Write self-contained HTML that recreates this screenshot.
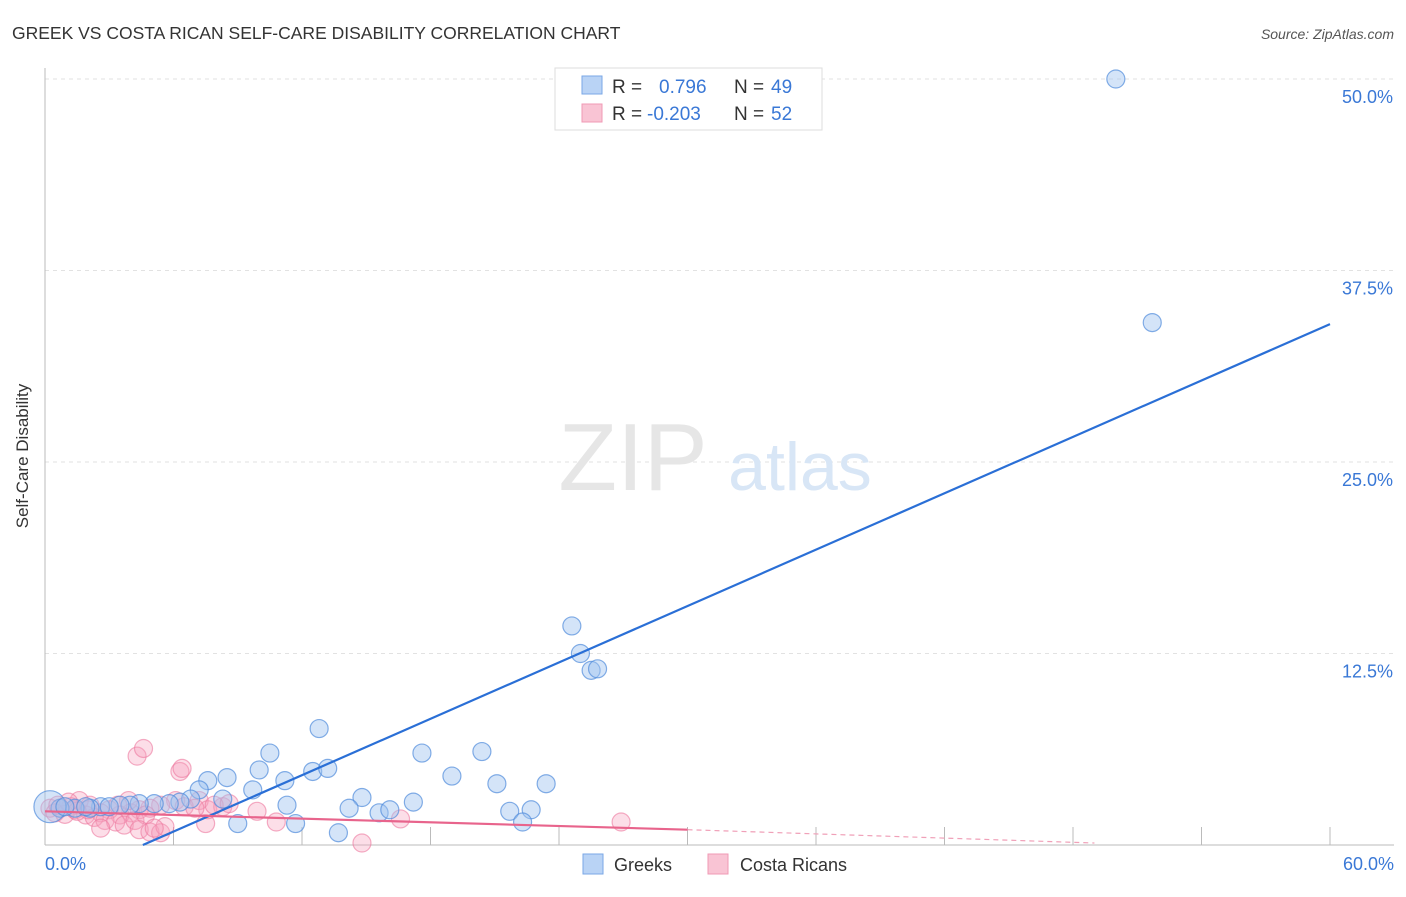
<!DOCTYPE html>
<html><head><meta charset="utf-8"><style>
body{margin:0;background:#fff;font-family:"Liberation Sans",sans-serif;}
svg text{font-family:"Liberation Sans",sans-serif;}
</style></head><body>
<svg width="1406" height="892" xmlns="http://www.w3.org/2000/svg">
<text x="12" y="39" font-size="17.5" fill="#333">GREEK VS COSTA RICAN SELF-CARE DISABILITY CORRELATION CHART</text>
<text x="1394" y="39" font-size="14" fill="#555" font-style="italic" text-anchor="end">Source: ZipAtlas.com</text>
<g id="grid"></g>
<text x="633" y="490" font-size="96" fill="#e6e6e6" font-family="Liberation Serif" text-anchor="middle">ZIP</text>
<text x="800" y="490" font-size="68" fill="#d8e6f6" text-anchor="middle">atlas</text>
<line x1="45" y1="68" x2="45" y2="845" stroke="#bbb"/>
<line x1="45" y1="845" x2="1394" y2="845" stroke="#bbb"/>
<g id="pts"></g>
<g id="lines"></g>
<text x="28" y="456" font-size="17" fill="#333" transform="rotate(-90 28 456)" text-anchor="middle">Self-Care Disability</text>
<text x="45" y="870" font-size="18" fill="#3a78d6">0.0%</text>
<text x="1394" y="870" font-size="18" fill="#3a78d6" text-anchor="end">60.0%</text>
<g>
<rect x="555" y="68" width="267" height="62" fill="#fff" stroke="#ddd"/>
<rect x="582" y="76" width="20" height="18" fill="#b9d3f5" stroke="#7aa7e6"/>
<rect x="582" y="104" width="20" height="18" fill="#f9c4d4" stroke="#f09ab5"/>
<text x="612" y="93" font-size="19" fill="#333">R =</text><text x="659" y="93" font-size="19" fill="#3a78d6">0.796</text>
<text x="734" y="93" font-size="19" fill="#333">N =</text><text x="771" y="93" font-size="19" fill="#3a78d6">49</text>
<text x="612" y="120" font-size="19" fill="#333">R =</text><text x="647" y="120" font-size="19" fill="#3a78d6">-0.203</text>
<text x="734" y="120" font-size="19" fill="#333">N =</text><text x="771" y="120" font-size="19" fill="#3a78d6">52</text>
</g>
<g>
<rect x="583" y="854" width="20" height="20" fill="#b9d3f5" stroke="#7aa7e6"/>
<text x="614" y="871" font-size="18" fill="#333">Greeks</text>
<rect x="708" y="854" width="20" height="20" fill="#f9c4d4" stroke="#f09ab5"/>
<text x="740" y="871" font-size="18" fill="#333">Costa Ricans</text>
</g>
</svg>
<script>
const yTicks=[12.5,25,37.5,50];
const xTicks=[0,6,12,18,24,30,36,42,48,54,60];
const greekX=[50.0,51.7,24.6,25.0,25.5,25.8,12.8,10.5,17.6,20.4,8.5,7.6,10.0,11.2,12.5,13.2,19.0,21.1,23.4,9.7,8.3,7.2,6.8,14.8,17.2,11.3,14.2,15.6,16.1,21.7,22.7,9.0,11.7,13.7,22.3,6.3,5.8,5.1,4.4,3.97,3.5,2.6,2.1,1.4,0.7,0.23,3.0,0.93,1.9];
const greekY=[50.0,34.1,14.3,12.5,11.4,11.5,7.6,6.0,6.0,6.1,4.4,4.2,4.9,4.2,4.8,5.0,4.5,4.0,4.0,3.6,3.0,3.6,3.0,3.1,2.8,2.6,2.4,2.1,2.3,2.2,2.3,1.4,1.4,0.8,1.5,2.8,2.7,2.7,2.7,2.6,2.6,2.5,2.4,2.4,2.4,2.5,2.5,2.5,2.5];
const greekR=[9,9,9,9,9,9,9,9,9,9,9,9,9,9,9,9,9,9,9,9,9,9,9,9,9,9,9,9,9,9,9,9,9,9,9,16,9,9,9,9,9,9,9,9,9,16,9,9,9];
const crX=[4.3,4.6,6.3,6.4,7.2,6.1,5.4,4.9,4.4,4.0,3.5,3.0,2.6,2.1,1.6,1.2,0.7,0.23,0.47,0.93,1.4,1.9,2.3,2.8,3.3,3.7,4.2,4.7,2.6,4.4,4.9,5.4,5.6,5.1,7.5,7.6,8.3,9.9,10.8,14.8,16.6,26.9,6.5,7.9,8.6,7.0,3.9,3.4,2.0,1.5,1.1,0.6];
const crY=[5.8,6.3,4.8,5.0,2.9,2.9,2.6,2.4,2.3,2.1,1.96,2.3,2.1,2.6,2.9,2.5,2.4,2.4,2.1,2.0,2.3,1.96,1.8,1.6,1.5,1.3,1.6,1.96,1.1,1.0,0.85,0.8,1.2,1.1,1.4,2.3,2.5,2.2,1.5,0.13,1.7,1.5,2.5,2.6,2.7,2.4,2.9,2.6,2.3,2.2,2.8,2.6];
greekR[35]=9;
const X0=45,X1=1330,Y0=845,Y50=79;
const sx=v=>X0+v/60*(X1-X0), sy=v=>Y0-v/50*(Y0-Y50);
const NS='http://www.w3.org/2000/svg';
function mk(t,a,p){const e=document.createElementNS(NS,t);for(const k in a)e.setAttribute(k,a[k]);p.appendChild(e);return e;}
const grid=document.getElementById('grid');
yTicks.forEach(v=>{
 const l=mk('line',{x1:45,x2:1394,y1:sy(v),y2:sy(v),stroke:'#e2e2e2','stroke-dasharray':'4,4'},grid);
 
 
 const t=mk('text',{x:1393,y:sy(v)+24,'font-size':18,fill:'#3a78d6','text-anchor':'end'},grid);
 t.textContent=v.toFixed(1)+'%';
 
 
});
xTicks.forEach(v=>{
 if(v===0)return;
 const l=mk('line',{x1:sx(v),x2:sx(v),y1:827,y2:845,stroke:'#bbb'},grid);
 
 
});
const pts=document.getElementById('pts');
crX.forEach((x,i)=>{
 const c=mk('circle',{cx:sx(x),cy:sy(crY[i]),r:9,fill:'rgba(246,160,188,0.35)',stroke:'rgba(236,120,158,0.6)','stroke-width':1.2},pts);
 
 
});
greekX.forEach((x,i)=>{
 const c=mk('circle',{cx:sx(x),cy:sy(greekY[i]),r:greekR[i],fill:'rgba(160,196,240,0.45)',stroke:'rgba(80,140,220,0.7)','stroke-width':1.2},pts);
 
 
});
const ln=document.getElementById('lines');
const gT=[4.57,60],gV=[0,34.0];
const bl=mk('line',{x1:sx(gT[0]),y1:sy(gV[0]),x2:sx(gT[1]),y2:sy(gV[1]),stroke:'#2a6fd6','stroke-width':2.2},ln);


const cT=[0,30,49],cV=[2.2,1.0,0.13];
const pl=mk('line',{x1:sx(cT[0]),y1:sy(cV[0]),x2:sx(cT[1]),y2:sy(cV[1]),stroke:'#e8648c','stroke-width':2.2},ln);


const pd=mk('line',{x1:sx(cT[1]),y1:sy(cV[1]),x2:sx(cT[2]),y2:sy(cV[2]),stroke:'#f0a0b8','stroke-width':1.2,'stroke-dasharray':'5,4'},ln);


</script>
</body></html>
